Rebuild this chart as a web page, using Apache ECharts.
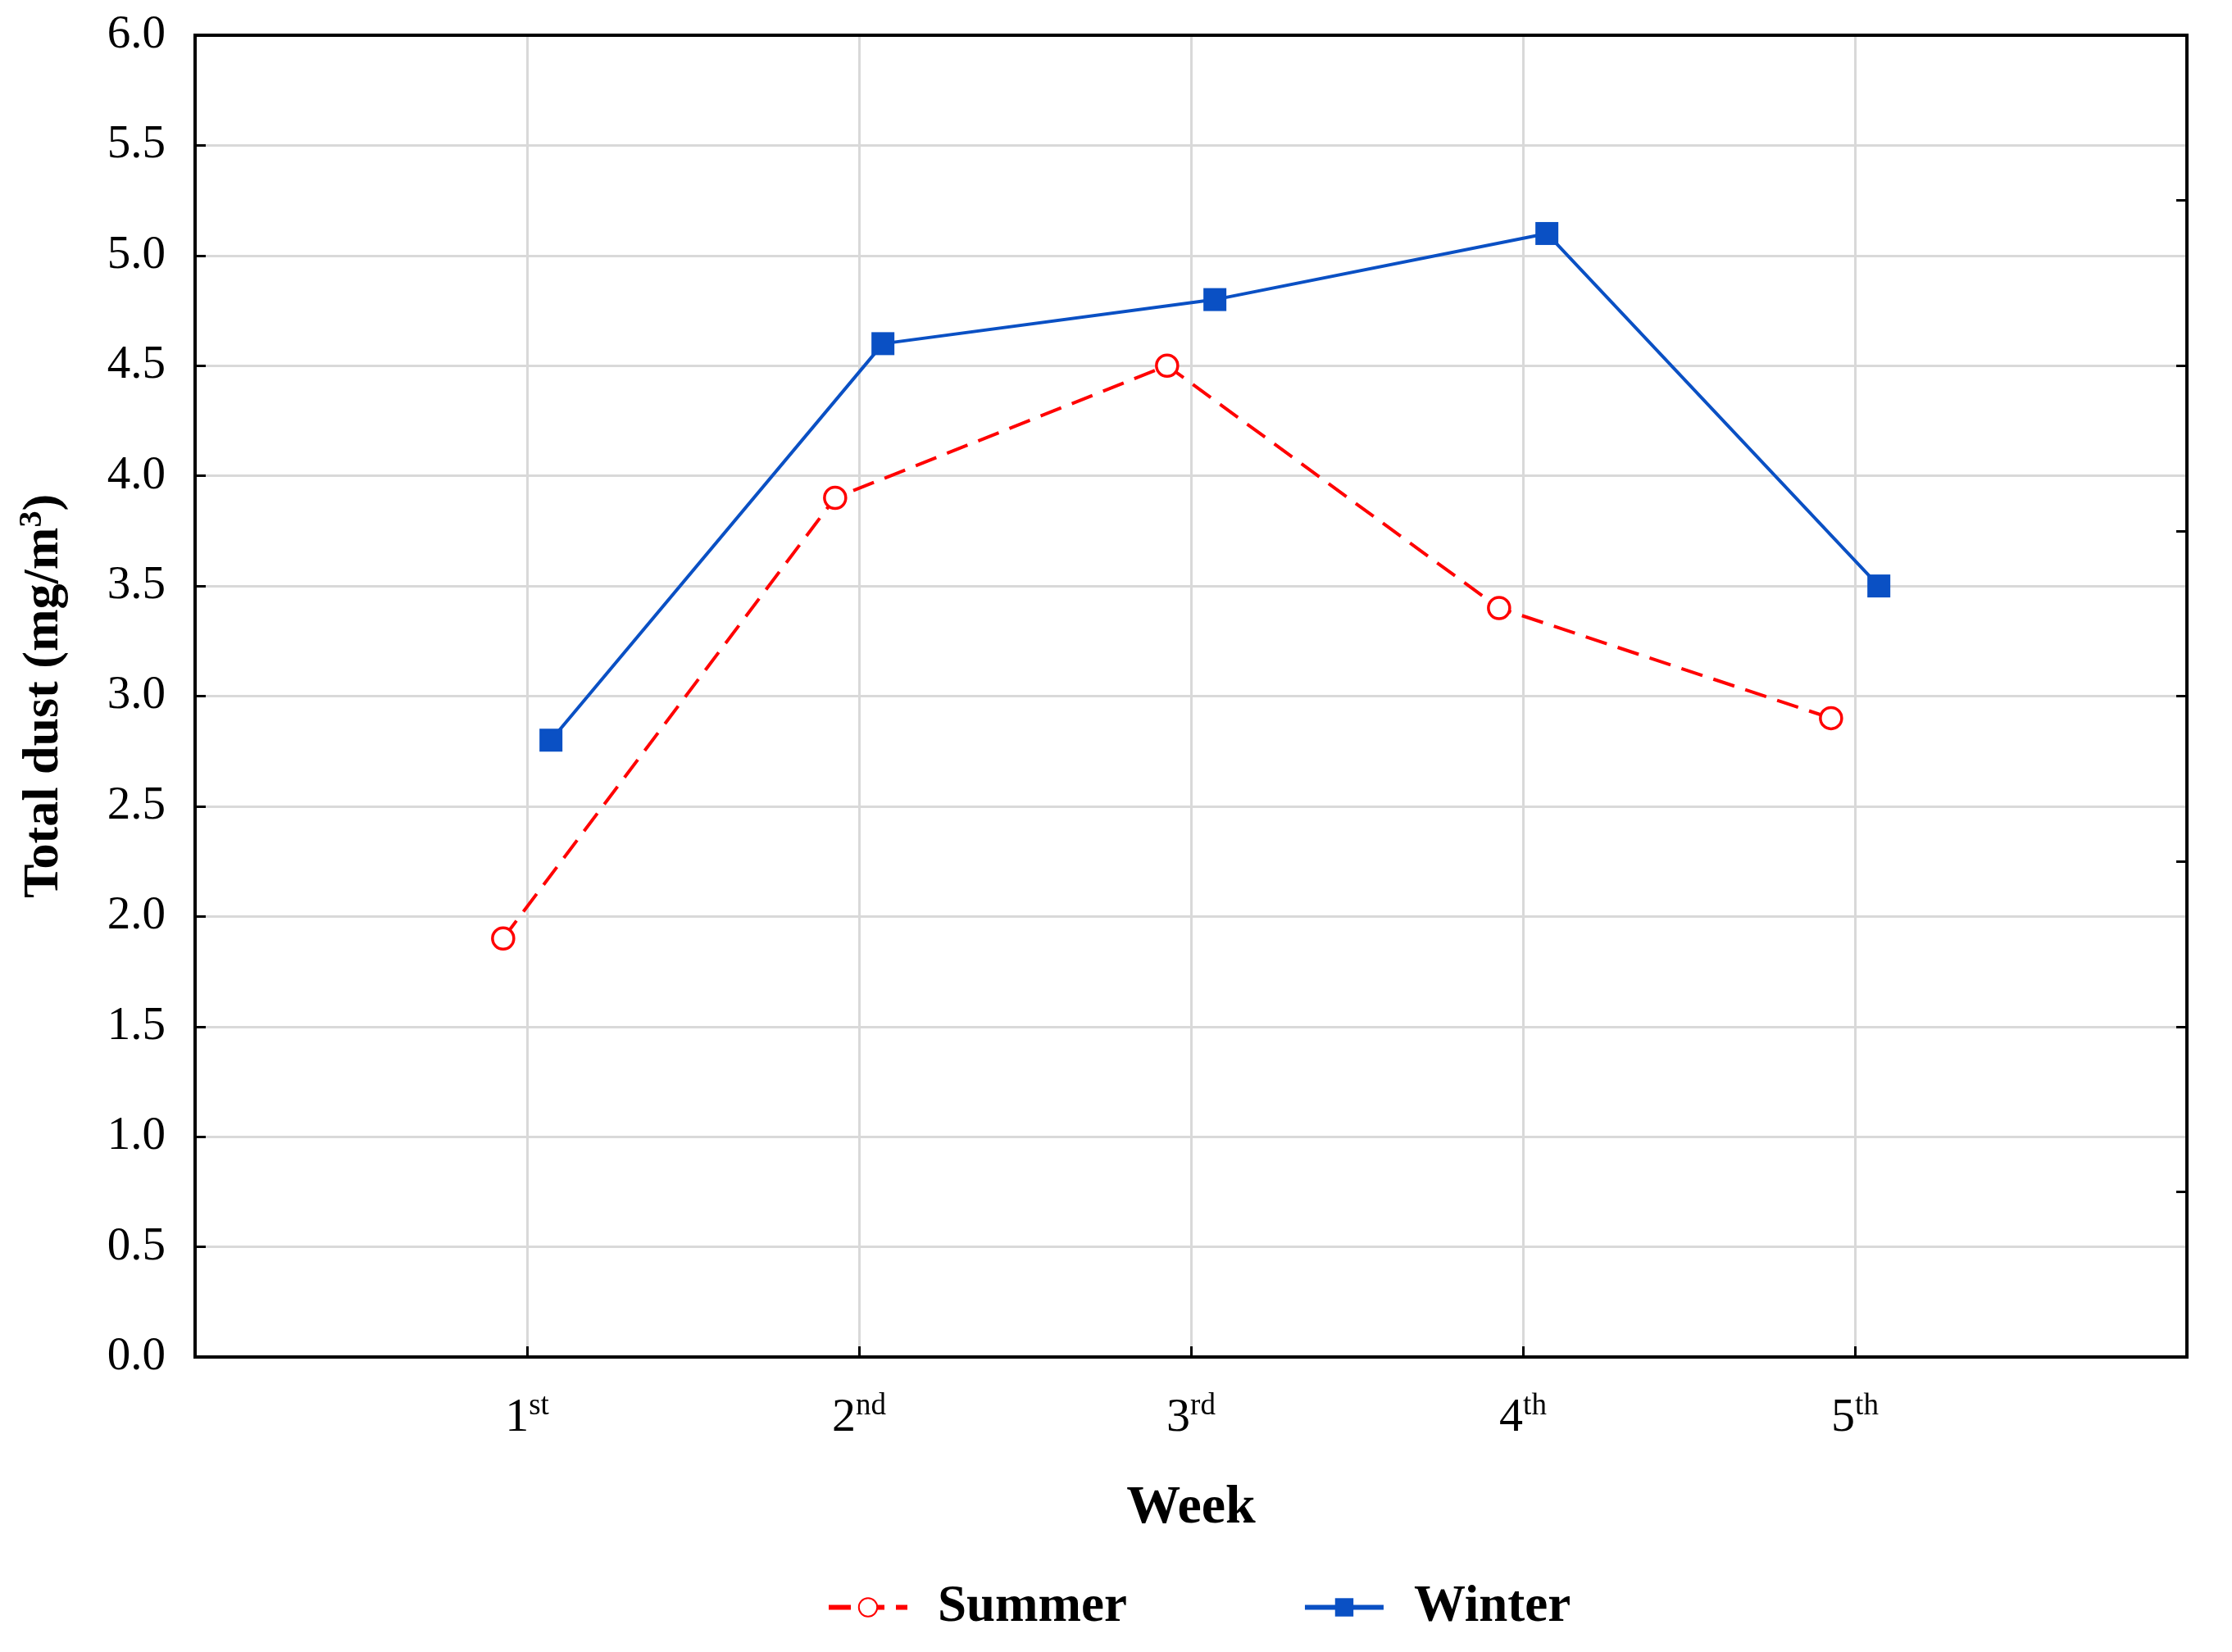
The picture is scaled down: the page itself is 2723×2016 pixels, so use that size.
<!DOCTYPE html>
<html>
<head>
<meta charset="utf-8">
<script src="https://cdn.jsdelivr.net/npm/echarts@6/dist/echarts.min.js"></script>
<style>
html,body{margin:0;padding:0;background:#fff;}
#c{width:2723px;height:2016px;}
</style>
</head>
<body>
<div id="c"></div>
<script>
// ---- data ----
var weekNums = ['1', '2', '3', '4', '5'];
var weekSuffix = ['st', 'nd', 'rd', 'th', 'th'];
var summer = [1.9, 3.9, 4.5, 3.4, 2.9];
var winter = [2.8, 4.6, 4.8, 5.1, 3.5];
var yTicks = ['0.0','0.5','1.0','1.5','2.0','2.5','3.0','3.5','4.0','4.5','5.0','5.5','6.0'];

// horizontal offset of each series around its week (styling only)
var SHIFT = 0.072;
function pts(vals, shift) {
  return vals.map(function (v, i) { return [i + 1 + shift, v]; });
}

var FONT = 'Liberation Serif';
var chart = echarts.init(document.getElementById('c'));
chart.setOption({
  animation: false,
  backgroundColor: '#ffffff',
  grid: {
    left: 238, right: 55, top: 43, bottom: 360,
    show: true, borderColor: '#000', borderWidth: 4, backgroundColor: 'transparent'
  },
  legend: {
    left: 1008, top: 1930, padding: 0,
    itemWidth: 96, itemHeight: 28, itemGap: 214,
    lineStyle: { width: 6 },
    textStyle: { fontFamily: FONT, fontSize: 63, fontWeight: 'bold', color: '#000', padding: [0, 0, 0, 32] },
    data: ['Summer', 'Winter']
  },
  xAxis: [{
    type: 'value', min: 0, max: 6, interval: 1,
    name: 'Week', nameLocation: 'middle', nameGap: 152,
    nameTextStyle: { fontFamily: FONT, fontSize: 66, fontWeight: 'bold', color: '#000' },
    axisLine: { show: true, onZero: false, lineStyle: { color: '#000', width: 4 } },
    axisTick: { show: true, inside: true, length: 13, lineStyle: { color: '#000', width: 3 } },
    splitLine: { show: true, lineStyle: { color: '#d9d9d9', width: 3 } },
    axisLabel: {
      margin: 42,
      formatter: function (v) {
        var i = Math.round(v) - 1;
        if (i < 0 || i >= weekNums.length) return '';
        return '{n|' + weekNums[i] + '}{s|' + weekSuffix[i] + '}';
      },
      rich: {
        n: { fontFamily: FONT, fontSize: 58, color: '#000', verticalAlign: 'bottom', lineHeight: 62 },
        s: { fontFamily: FONT, fontSize: 37, color: '#000', verticalAlign: 'top', lineHeight: 62, padding: [0, 0, 22, 0] }
      }
    }
  }, {
    type: 'value', min: 0, max: 6, position: 'top',
    axisLine: { show: true, onZero: false, lineStyle: { color: '#000', width: 4 } },
    axisTick: { show: false }, axisLabel: { show: false }, splitLine: { show: false }
  }],
  yAxis: [{
    type: 'value', min: 0, max: 6, interval: 0.5,
    name: 'Total dust (mg/m{sup|3})', nameLocation: 'middle', nameGap: 150,
    nameTextStyle: {
      fontFamily: FONT, fontSize: 62, fontWeight: 'bold', color: '#000',
      rich: { sup: { fontFamily: FONT, fontSize: 40, fontWeight: 'bold', color: '#000', verticalAlign: 'top', padding: [0, 0, 28, 0] } }
    },
    axisLine: { show: true, onZero: false, lineStyle: { color: '#000', width: 4 } },
    axisTick: { show: true, inside: true, length: 13, lineStyle: { color: '#000', width: 3 } },
    splitLine: { show: true, lineStyle: { color: '#d9d9d9', width: 3 } },
    axisLabel: {
      margin: 36, fontFamily: FONT, fontSize: 57, color: '#000',
      formatter: function (v) { return yTicks[Math.round(v * 2)]; }
    }
  }, {
    type: 'value', min: 0, max: 6, interval: 0.75, position: 'right',
    axisLine: { show: true, onZero: false, lineStyle: { color: '#000', width: 4 } },
    axisTick: { show: true, inside: true, length: 13, lineStyle: { color: '#000', width: 3 } },
    axisLabel: { show: false }, splitLine: { show: false }
  }],
  series: [{
    name: 'Summer', type: 'line', xAxisIndex: 0, yAxisIndex: 0,
    data: pts(summer, -SHIFT),
    symbol: 'circle', symbolSize: 26,
    itemStyle: { color: '#ffffff', borderColor: '#ff0000', borderWidth: 3.5 },
    lineStyle: { color: '#ff0000', width: 4, type: [27, 14] },
    color: '#ff0000'
  }, {
    name: 'Winter', type: 'line', xAxisIndex: 0, yAxisIndex: 0,
    data: pts(winter, SHIFT),
    symbol: 'rect', symbolSize: 28,
    itemStyle: { color: '#0a50c4', borderWidth: 0 },
    lineStyle: { color: '#0a50c4', width: 4 },
    color: '#0a50c4'
  }]
});
</script>
</body>
</html>
